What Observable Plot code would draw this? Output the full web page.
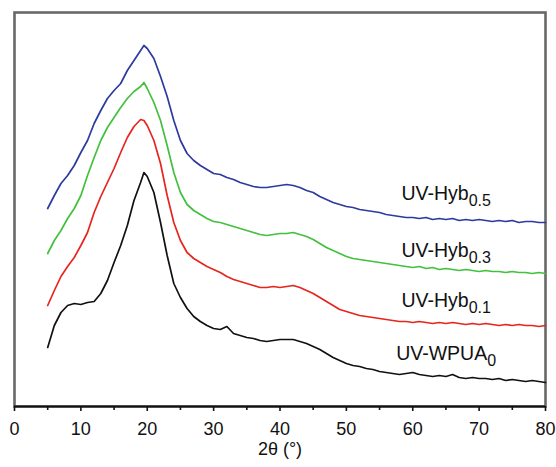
<!DOCTYPE html>
<html>
<head>
<meta charset="utf-8">
<script src="https://cdn.jsdelivr.net/npm/d3@7"></script>
<script src="https://cdn.jsdelivr.net/npm/@observablehq/plot@0.6"></script>
<style>
  html, body { margin: 0; padding: 0; background: #fff; }
</style>
</head>
<body>
<div id="chart"></div>
<script>
// 2θ grid (degrees)
const twoTheta = [5,6,7,8,9,10,11,12,13,14,15,16,17,18,19,19.5,
  20,21,22,23,24,25,26,27,28,29,
  30,31,32,33,34,35,36,37,38,39,
  40,41,42,43,44,45,46,47,48,49,
  50,51,52,53,54,55,56,57,58,59,
  60,61,62,63,64,65,66,67,68,69,
  70,71,72,73,74,75,76,77,78,79,
  80];

// Intensities (a.u., offset as in the figure)
const hyb05 = [198,211,223,231,241,254,266,283,296,308,316,323,336,346,356,361,
  358,348,330,310,286,266,253,246,241,237,
  233,232,229,227,224,222,220,219,219,220,
  221,222,221,219,216,214,210,207,204,202,
  200,199,197,196,195,194,192,191,190,189,
  189,188,189,187,188,187,188,186,187,186,
  187,186,185,186,185,186,184,185,185,184,
  184];
const hyb03 = [153,166,176,188,198,211,231,249,266,279,289,299,308,315,320,324,
  318,304,286,261,234,214,202,196,192,188,
  185,184,182,180,178,176,174,172,171,172,
  173,173,174,172,170,167,163,159,156,153,
  150,148,147,146,145,144,143,142,141,140,
  139,140,138,139,137,138,137,136,137,136,
  135,136,135,135,134,135,134,134,133,134,
  133];
const hyb01 = [101,116,130,140,149,161,174,194,210,224,238,254,269,280,287,286,
  281,266,243,211,184,166,154,148,144,140,
  137,134,130,127,125,123,121,119,119,120,
  119,120,121,119,116,113,109,105,101,97,
  95,93,91,90,89,88,87,86,85,85,
  84,85,84,83,84,83,84,83,82,83,
  82,83,82,81,82,81,82,81,81,80,
  81];
const wpua0 = [59,81,94,101,103,102,104,105,113,126,144,161,181,206,224,234,
  230,214,184,151,123,109,98,90,85,81,
  78,77,80,73,71,69,68,66,65,66,
  67,67,67,65,63,60,57,53,49,46,
  43,41,40,38,37,35,34,33,32,33,
  34,32,31,30,31,30,32,29,28,29,
  28,28,27,28,26,27,26,25,26,25,
  24];

const seriesNames = ["UV-Hyb_0.5", "UV-Hyb_0.3", "UV-Hyb_0.1", "UV-WPUA_0"];
const seriesColors = ["#2d3a9e", "#42c03e", "#e6251e", "#111111"];
const seriesValues = [hyb05, hyb03, hyb01, wpua0];

// label anchors (data units: 2θ, intensity)
const labelX = [58.3, 58.3, 58.3, 57.5];
const labelY = [213, 156, 106, 53];

const majorTicks = [0,10,20,30,40,50,60,70,80];
const minorTicks = [5,15,25,35,45,55,65,75];
const xTitle = "2θ (°)";
const xDomain = [0, 80];
const yDomain = [0, 394];

const rows = seriesNames.flatMap((name, s) =>
  twoTheta.map((x, i) => ({x, y: seriesValues[s][i], name})));
const labels = seriesNames.map((name, i) => ({x: labelX[i], y: labelY[i], name}));

const chart = Plot.plot({
  width: 556,
  height: 467,
  marginLeft: 14,
  marginRight: 11,
  marginTop: 12,
  marginBottom: 61,
  style: {fontFamily: "'Liberation Sans', Arial, Helvetica, sans-serif", background: "#fff", color: "#111"},
  x: {domain: xDomain, label: null},
  y: {domain: yDomain, label: null, axis: null},
  color: {domain: seriesNames, range: seriesColors},
  marks: [
    Plot.frame({stroke: "#686868", strokeWidth: 2.6}),
    Plot.lineY(rows, {x: "x", y: "y", z: "name", stroke: "name", strokeWidth: 1.7}),
    Plot.ruleY([yDomain[0]], {stroke: "currentColor", strokeWidth: 2}),
    Plot.axisX(majorTicks, {tickSize: 5, tickPadding: 11, fontSize: 18, strokeWidth: 1.6, stroke: "currentColor", fill: "currentColor", label: null}),
    Plot.axisX(minorTicks, {tickSize: 4, strokeWidth: 1.6, stroke: "currentColor", tickFormat: () => "", label: null}),
    Plot.text([xTitle], {frameAnchor: "bottom", lineAnchor: "middle", dy: 43, fontSize: 18, fill: "currentColor"}),
    Plot.text(labels, {x: "x", y: "y", text: "name", textAnchor: "start", fontSize: 19.5, fill: "currentColor"})
  ]
});

// turn "_" suffixes into subscripts
d3.select(chart).selectAll("text").filter(function() {
  return this.textContent.includes("_");
}).each(function() {
  const [main, sub] = this.textContent.split("_");
  const sel = d3.select(this);
  sel.text(null);
  sel.append("tspan").text(main);
  sel.append("tspan").attr("dy", "0.42em").attr("font-size", 16).text(sub);
});

document.getElementById("chart").appendChild(chart);
</script>
</body>
</html>
